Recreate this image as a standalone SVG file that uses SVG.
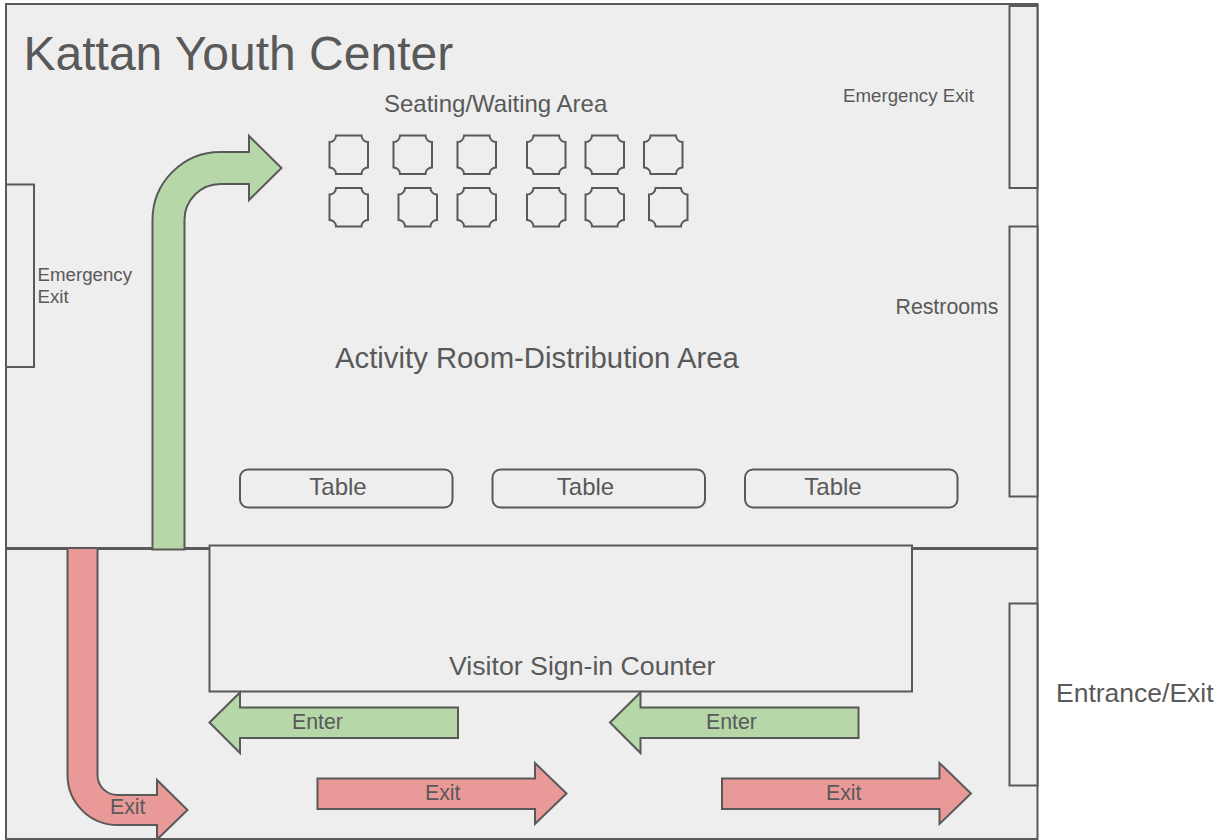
<svg xmlns="http://www.w3.org/2000/svg" width="1223" height="840" viewBox="0 0 1223 840">
<style>
.s{fill:#eeeeee;stroke:#595959;stroke-width:2}
.g{fill:#b6d7a8;stroke:#595959;stroke-width:2;stroke-linejoin:miter}
.r{fill:#ea9999;stroke:#595959;stroke-width:2;stroke-linejoin:miter}
text{font-family:"Liberation Sans",Arial,sans-serif;fill:#595959}
.a{font-size:21.3px}.e{font-size:18.7px}.m{font-size:24px}
</style>
<defs>
<path id="seat" class="s" d="M6.500 0H32A6.500 6.500 0 0 0 38.500 6.500V32A6.500 6.500 0 0 0 32 38.500H6.500A6.500 6.500 0 0 0 0 32V6.500A6.500 6.500 0 0 0 6.500 0Z"/>
<rect id="table" class="s" width="212.500" height="38" rx="8"/>
<path id="enter" class="g" d="M0 30 L30.500 0 V15 H248.500 V45.500 H30.500 V60.500Z"/>
<path id="exit" class="r" d="M0 15.500 H217.500 V0 L249 30.500 L217.500 61 V46 H0Z"/>
</defs>
<g id="room-upper"><rect class="s" x="6" y="4" width="1031.500" height="544"/></g>
<g id="room-lower"><rect class="s" x="6" y="549" width="1031.500" height="290"/></g>
<g id="title"><text x="23.500" y="70" style="font-size:48px">Kattan Youth Center</text></g>
<g id="emergency-exit-right"><rect class="s" x="1009.500" y="6" width="28" height="182"/><text class="e" x="843" y="102">Emergency Exit</text></g>
<g id="emergency-exit-left"><rect class="s" x="6" y="184.500" width="28" height="182.500"/><text class="e" x="37.500" y="281">Emergency</text><text class="e" x="37.500" y="303">Exit</text></g>
<g id="restrooms"><rect class="s" x="1009.500" y="226.500" width="28" height="270"/><text x="895.500" y="314" style="font-size:21.300px">Restrooms</text></g>
<g id="entrance-exit"><rect class="s" x="1009.500" y="603.500" width="28" height="182"/><text x="1056" y="701.500" style="font-size:26.500px">Entrance/Exit</text></g>
<g id="seating-label"><text class="m" x="384" y="112">Seating/Waiting Area</text></g>
<g id="seats">
<use href="#seat" x="329.500" y="135.500"/><use href="#seat" x="393.500" y="135.500"/><use href="#seat" x="457.500" y="135.500"/><use href="#seat" x="527" y="135.500"/><use href="#seat" x="585.500" y="135.500"/><use href="#seat" x="644" y="135.500"/>
<use href="#seat" x="329.500" y="188"/><use href="#seat" x="398.500" y="188"/><use href="#seat" x="457.500" y="188"/><use href="#seat" x="527" y="188"/><use href="#seat" x="585.500" y="188"/><use href="#seat" x="649" y="188"/>
</g>
<g id="activity-room-label"><text x="335" y="368" style="font-size:29.300px">Activity Room-Distribution Area</text></g>
<g id="table-1"><use href="#table" x="240" y="469.500"/><text class="m" x="338" y="495" text-anchor="middle">Table</text></g>
<g id="table-2"><use href="#table" x="492.500" y="469.500"/><text class="m" x="585.500" y="495" text-anchor="middle">Table</text></g>
<g id="table-3"><use href="#table" x="745" y="469.500"/><text class="m" x="833" y="495" text-anchor="middle">Table</text></g>
<g id="counter"><rect class="s" x="209.500" y="545.500" width="702.500" height="146"/><text x="449" y="674.500" style="font-size:26.700px">Visitor Sign-in Counter</text></g>
<g id="connectors">
<path class="g" d="M152.500 549.500 V220 A68 68 0 0 1 220.500 152 H249 V136 L281.500 168 L249 200 V184 H220.500 A36 36 0 0 0 184.500 220 V549.500Z"/>
<path class="r" d="M67.500 548 V775 A50 50 0 0 0 117.500 825 H157 V839.500 L187.500 810 L157 780 V795 H117.500 A20 20 0 0 1 97.500 775 V548Z"/>
<use href="#enter" x="209.500" y="692.500"/>
<use href="#enter" x="610" y="692.500"/>
<use href="#exit" x="317.500" y="763"/>
<use href="#exit" x="722" y="763"/>
<text class="a" x="110" y="813.500">Exit</text>
<text class="a" x="292" y="728.500">Enter</text>
<text class="a" x="706" y="728.500">Enter</text>
<text class="a" x="425" y="799.500">Exit</text>
<text class="a" x="826" y="799.500">Exit</text>
</g>
</svg>
